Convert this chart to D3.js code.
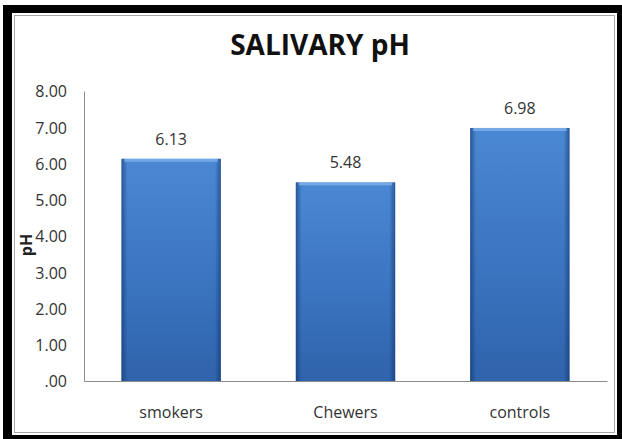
<!DOCTYPE html>
<html>
<head>
<meta charset="utf-8">
<script src="https://cdn.jsdelivr.net/npm/d3@7"></script>
<style>
  body { margin: 0; background: #fff; }
  svg { display: block; }
</style>
</head>
<body>
<div class="chart"></div>
<script>
var categories = ["smokers", "Chewers", "controls"];
var values = [6.13, 5.48, 6.98];
var valueLabels = ["6.13", "5.48", "6.98"];
var tickValues = [0, 1, 2, 3, 4, 5, 6, 7, 8];
var tickLabels = [".00", "1.00", "2.00", "3.00", "4.00", "5.00", "6.00", "7.00", "8.00"];
var title = "SALIVARY pH";
var yTitle = "pH";

var width = 622;
var height = 439;
var font = "'Open Sans', sans-serif";

// plot area edges (note: "top" is reserved on window, so use plot*)
var plotLeft = 84, plotRight = 607, plotTop = 91, plotBottom = 381;

var svg = d3.select(".chart").append("svg")
	.attr("width", width)
	.attr("height", height);

// frame: thick black border, thin grey inner line
svg.append("rect")
	.attr("x", 3).attr("y", 5)
	.attr("width", width - 3).attr("height", height - 5)
	.attr("fill", "#000");
svg.append("rect")
	.attr("x", 12).attr("y", 13)
	.attr("width", 605).attr("height", 422)
	.attr("fill", "#fff");
svg.append("rect")
	.attr("x", 14.5).attr("y", 15.5)
	.attr("width", 600).attr("height", 417)
	.attr("fill", "none")
	.attr("stroke", "#a6a6a6")
	.attr("stroke-width", 1);

var defs = svg.append("defs");

var vGrad = defs.append("linearGradient")
	.attr("id", "barV")
	.attr("x1", 0).attr("y1", 0).attr("x2", 0).attr("y2", 1);
vGrad.append("stop").attr("offset", "0%").attr("stop-color", "#4b88d4");
vGrad.append("stop").attr("offset", "55%").attr("stop-color", "#3b74c0");
vGrad.append("stop").attr("offset", "100%").attr("stop-color", "#2f63ab");

var hGrad = defs.append("linearGradient")
	.attr("id", "barH")
	.attr("x1", 0).attr("y1", 0).attr("x2", 1).attr("y2", 0);
hGrad.append("stop").attr("offset", "0%").attr("stop-color", "#0d2f66").attr("stop-opacity", 0.55);
hGrad.append("stop").attr("offset", "6%").attr("stop-color", "#0d2f66").attr("stop-opacity", 0.0);
hGrad.append("stop").attr("offset", "94%").attr("stop-color", "#0d2f66").attr("stop-opacity", 0.0);
hGrad.append("stop").attr("offset", "100%").attr("stop-color", "#0d2f66").attr("stop-opacity", 0.55);

var x = d3.scaleBand()
	.domain(categories)
	.range([plotLeft, plotRight])
	.paddingInner(0.43)
	.paddingOuter(0.215);

var y = d3.scaleLinear()
	.domain([0, 8])
	.range([plotBottom, plotTop]);

// title
svg.append("text")
	.attr("x", 320)
	.attr("y", 55)
	.attr("text-anchor", "middle")
	.attr("font-family", font)
	.attr("font-weight", "bold")
	.attr("font-size", 28)
	.attr("fill", "#111")
	.text(title);

// y axis
var yAxis = d3.axisLeft(y)
	.tickValues(tickValues)
	.tickSize(0)
	.tickPadding(17)
	.tickFormat(function(d, i) { return tickLabels[i]; });

var yg = svg.append("g")
	.attr("transform", "translate(" + plotLeft + ",0)")
	.call(yAxis);
yg.select(".domain").attr("stroke", "#8c8c8c");
yg.selectAll("text")
	.attr("font-family", font)
	.attr("font-size", 16)
	.attr("fill", "#333")
	.attr("dy", "0.36em");

// y axis title
svg.append("text")
	.attr("transform", "translate(32,245) rotate(-90)")
	.attr("text-anchor", "middle")
	.attr("font-family", font)
	.attr("font-weight", "bold")
	.attr("font-size", 16)
	.attr("fill", "#222")
	.text(yTitle);

// bars
var bars = svg.append("g").selectAll("g")
	.data(values)
	.enter().append("g");

bars.append("rect")
	.attr("x", function(d, i) { return x(categories[i]); })
	.attr("y", function(d) { return y(d); })
	.attr("width", x.bandwidth())
	.attr("height", function(d) { return y(0) - y(d); })
	.attr("fill", "url(#barV)");

bars.append("rect")
	.attr("x", function(d, i) { return x(categories[i]); })
	.attr("y", function(d) { return y(d); })
	.attr("width", x.bandwidth())
	.attr("height", function(d) { return y(0) - y(d); })
	.attr("fill", "url(#barH)");

// top bevel highlight
bars.append("rect")
	.attr("x", function(d, i) { return x(categories[i]) + 3; })
	.attr("y", function(d) { return y(d); })
	.attr("width", x.bandwidth() - 6)
	.attr("height", 3)
	.attr("fill", "#7fb0ea")
	.attr("opacity", 0.8);

// value labels
bars.append("text")
	.attr("x", function(d, i) { return x(categories[i]) + x.bandwidth() / 2; })
	.attr("y", function(d) { return y(d) - 14; })
	.attr("text-anchor", "middle")
	.attr("font-family", font)
	.attr("font-size", 16)
	.attr("fill", "#333")
	.text(function(d, i) { return valueLabels[i]; });

// x axis (baseline)
var xAxis = d3.axisBottom(x)
	.tickSize(0)
	.tickPadding(26);

var xg = svg.append("g")
	.attr("transform", "translate(0," + plotBottom + ")")
	.call(xAxis);
xg.select(".domain").attr("stroke", "#8c8c8c");
xg.selectAll("text")
	.attr("font-family", font)
	.attr("font-size", 16)
	.attr("fill", "#333");
</script>
</body>
</html>
